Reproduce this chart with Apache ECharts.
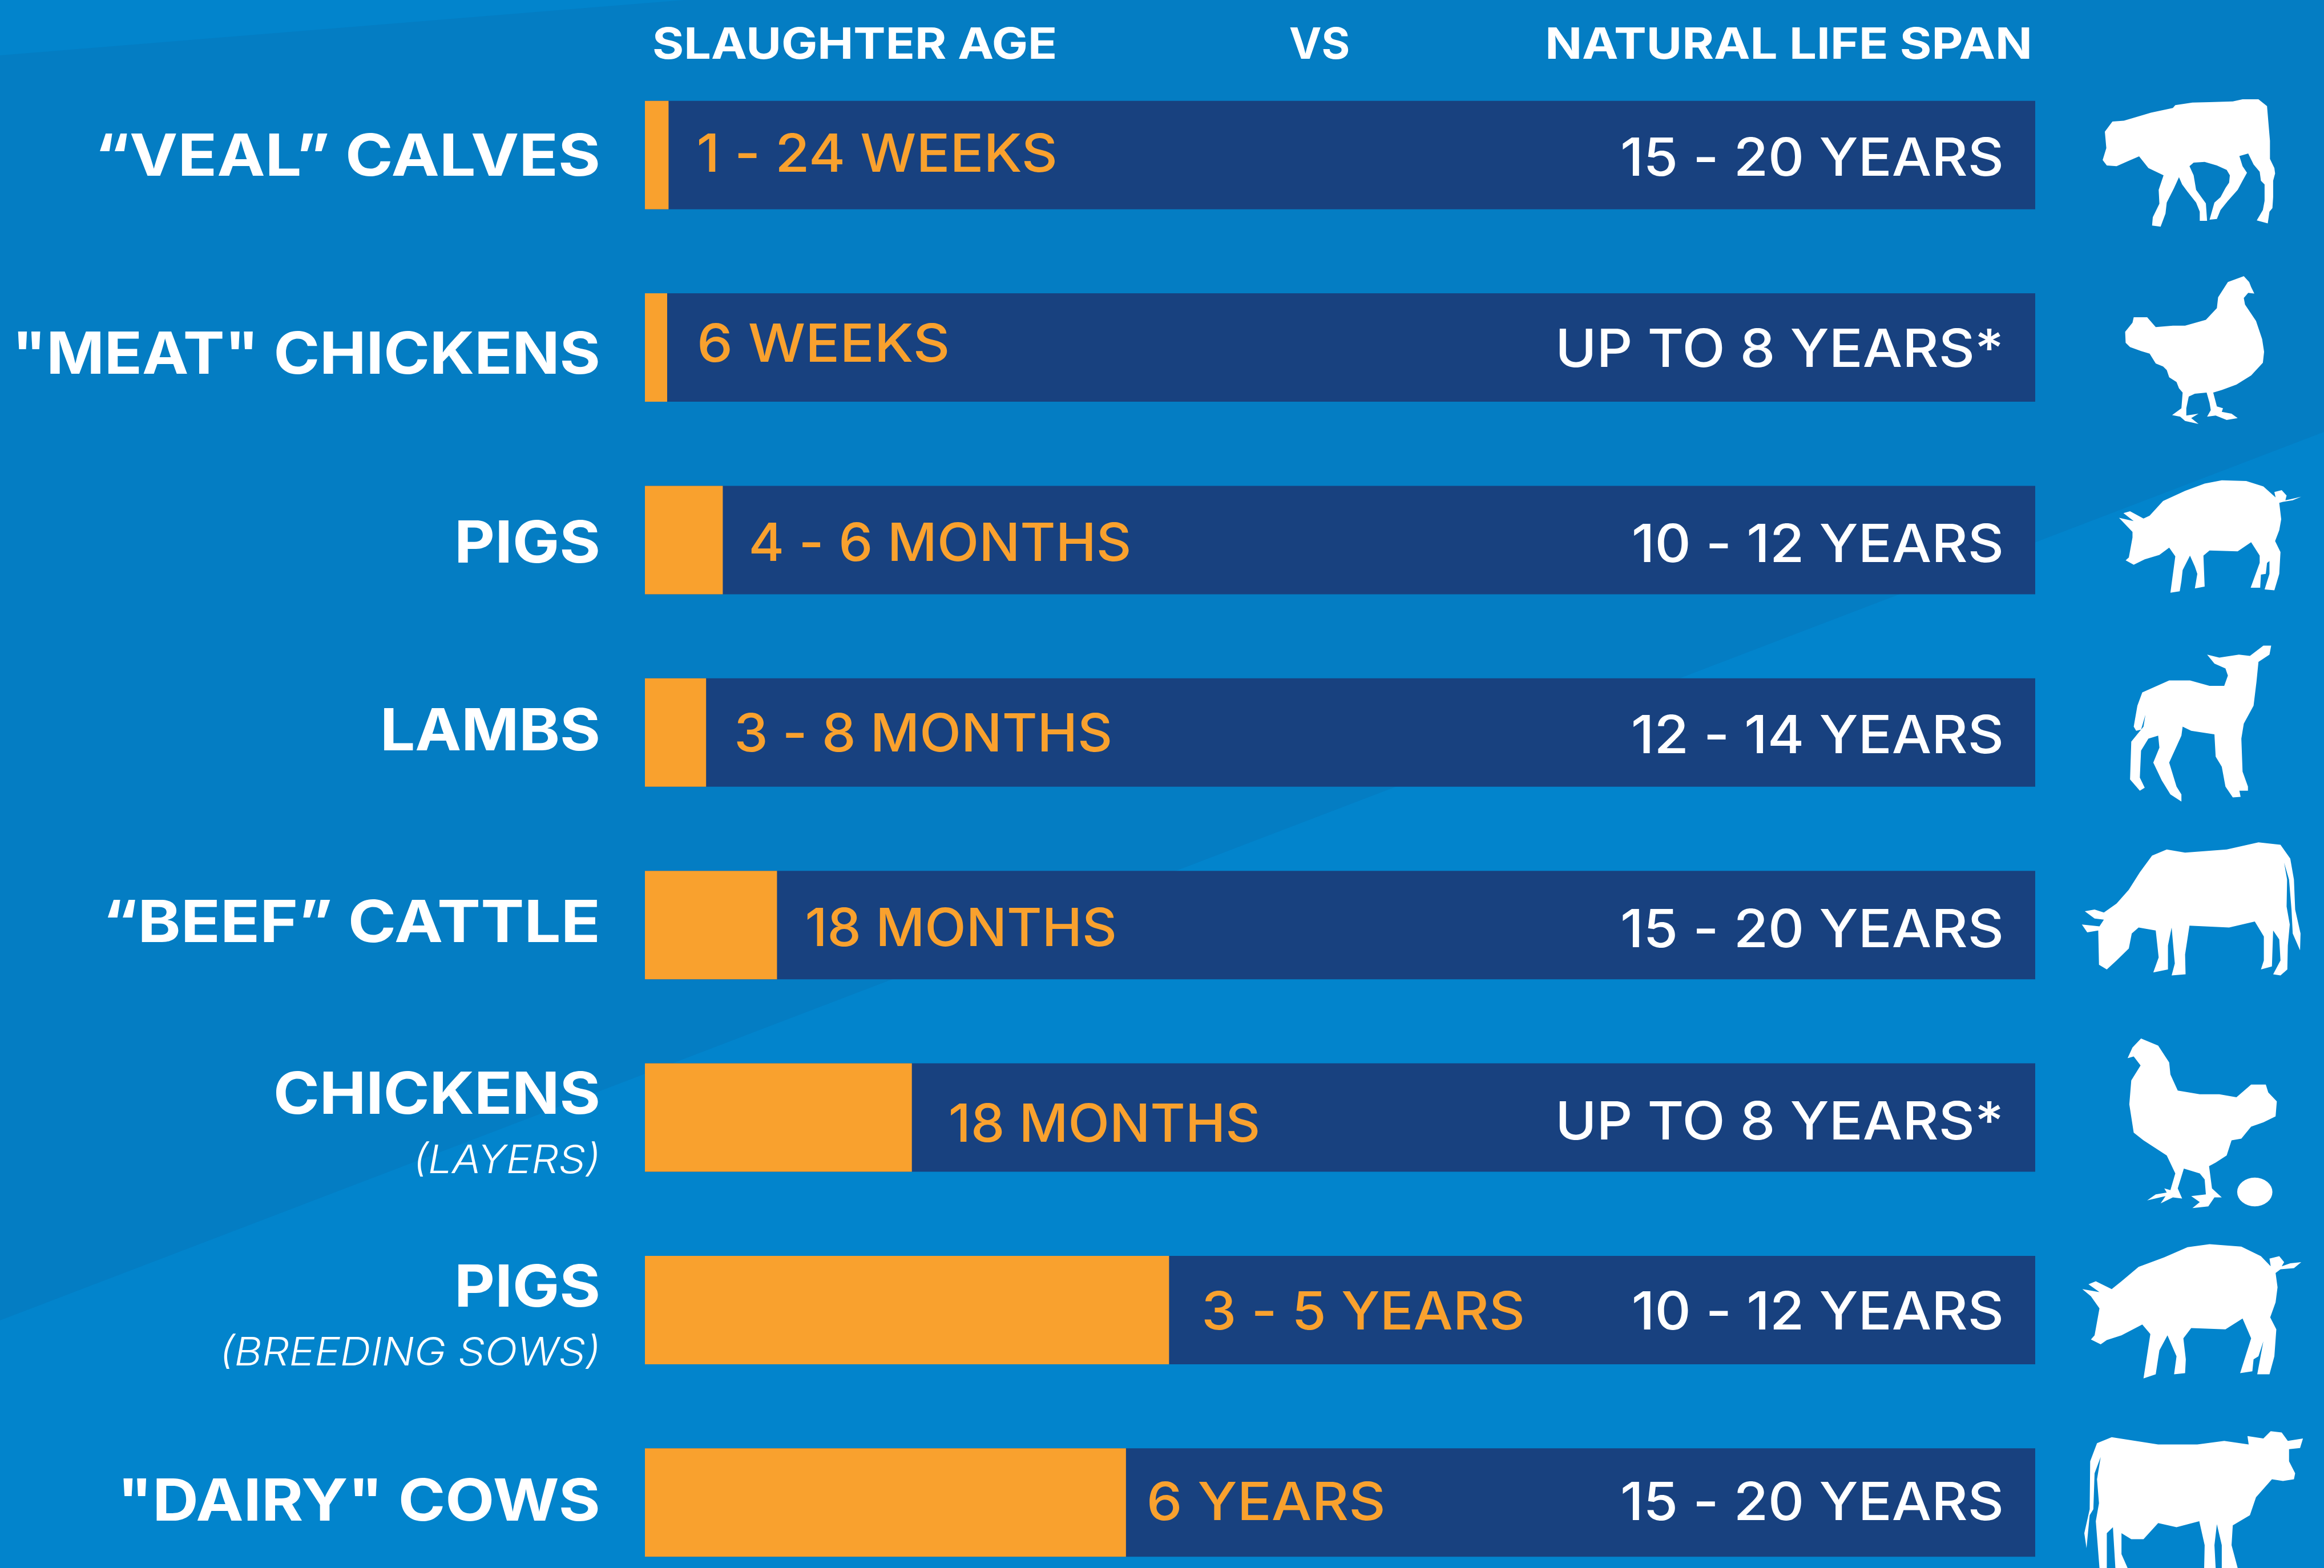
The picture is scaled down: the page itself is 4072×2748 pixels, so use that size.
<!DOCTYPE html>
<html>
<head>
<meta charset="utf-8">
<style>
  html, body { margin: 0; padding: 0; background: #047dc3; }
  #chart { width: 4072px; height: 2748px; }
</style>
<script src="https://cdn.jsdelivr.net/npm/echarts@6/dist/echarts.min.js"></script>
</head>
<body>
<div id="chart"></div>
<script>
var categories = ["“VEAL” CALVES", "\"MEAT\" CHICKENS", "PIGS", "LAMBS", "“BEEF” CATTLE", "CHICKENS", "PIGS", "\"DAIRY\" COWS"];
var subLabels = ["", "", "", "", "", "(LAYERS)", "(BREEDING SOWS)", ""];
// share of natural life span, in percent
var slaughterShare = [1.7, 1.6, 5.6, 4.4, 9.5, 19.2, 37.7, 34.6];
var lifeSpanFull = [100, 100, 100, 100, 100, 100, 100, 100];
var slaughterText = ["1 - 24 WEEKS", "6 WEEKS", "4 - 6 MONTHS", "3 - 8 MONTHS", "18 MONTHS", "18 MONTHS", "3 - 5 YEARS", "6 YEARS"];
var lifeText = ["15 - 20 YEARS", "UP TO 8 YEARS*", "10 - 12 YEARS", "12 - 14 YEARS", "15 - 20 YEARS", "UP TO 8 YEARS*", "10 - 12 YEARS", "15 - 20 YEARS"];

// layout of the texts: gap after the orange bar, small vertical nudges per row
var labelGaps = [49, 52, 45, 49, 49, 64, 57, 36];
var nameNudge = [0, 9, 3, -5, -7, 5, 5, -5];
var slaughterNudge = [-4, -9, 3, 0, 3, 9, 0, -3];
var lifeNudge = [3, 0, 5, 3, 5, 5, 0, -3];
// how much each row's lettering is wider than Inter
var nameStretch = [1.108, 1.069, 1.075, 1.063, 1.118, 1.07, 1.075, 1.095];
var slaughterStretch = [1.063, 1.088, 1.038, 1.03, 1.026, 1.026, 1.06, 1.084];

var FONT = "Inter, Lato, sans-serif";
var ORANGE = "#f9a12e";
var NAVY = "#18417f";
var LIGHT = "#0284cc";
var TEXT_DROP = 6; // Inter sits a little high in its box

// silhouettes, traced in the coordinates of two crops of the picture
var cropA = { x: 3400, y: 100, scaleX: 0.4286, scaleY: 0.6378 };
var cropB = { x: 3400, y: 1100, scaleX: 0.4286, scaleY: 1.051 };
var animals = [
  [cropA, "M703 177L750 175L825 160L860 153L950 140L960 132L1030 125L1100 124L1195 122L1235 116L1300 116L1335 135L1340 175L1347 230L1347 280L1365 305L1368 320L1360 340L1360 385L1357 415L1345 425L1338 457L1293 449L1318 420L1325 395L1325 350L1310 340L1305 315L1280 295L1258 265L1222 272L1235 300L1253 318L1235 340L1215 365L1175 395L1145 420L1130 445L1100 447L1120 400L1145 385L1165 360L1180 345L1183 325L1170 310L1130 298L1080 288L1035 290L1018 300L1035 325L1045 365L1085 402L1090 450L1060 450L1060 425L1045 400L1010 370L988 350L975 330L955 360L925 400L920 430L900 466L865 463L868 440L895 403L892 365L912 325L850 305L812 273L770 285L720 300L680 298L663 283L678 250L672 205Z"],
  [cropA, "M1240 602L1262 618L1270 632L1283 650L1258 648L1240 662L1245 680L1290 725L1315 775L1323 810L1318 840L1270 875L1210 900L1150 915L1115 922L1130 960L1155 965L1150 975L1190 980L1215 992L1170 997L1125 985L1090 988L1105 970L1100 950L1088 922L1040 925L1015 933L1005 965L1005 985L1055 980L1025 992L1055 1008L1000 1000L980 988L947 984L985 965L990 922L975 910L965 893L935 880L925 860L910 850L880 842L855 815L820 808L775 797L757 785L755 755L785 730L790 715L845 715L880 742L950 738L1000 738L1085 722L1130 690L1135 660L1175 618Z"],
  [cropA, "M1150 1163L1250 1165L1320 1180L1370 1210L1365 1195L1395 1190L1415 1205L1410 1218L1430 1215L1475 1208L1440 1218L1400 1222L1385 1225L1393 1270L1385 1300L1368 1330L1390 1360L1385 1420L1365 1465L1325 1463L1345 1420L1345 1385L1335 1390L1330 1420L1310 1422L1307 1458L1268 1458L1305 1390L1305 1370L1270 1333L1215 1358L1100 1356L1075 1370L1080 1455L1040 1460L1050 1420L1040 1400L1020 1370L990 1410L985 1440L978 1468L940 1472L960 1372L935 1348L895 1368L835 1380L790 1395L757 1383L770 1375L785 1320L785 1305L750 1280L730 1266L790 1275L748 1253L775 1248L830 1268L855 1260L910 1220L1000 1192L1080 1172Z"],
  [cropB, "M1090 45L1140 50L1220 45L1265 47L1320 30L1352 30L1345 45L1300 57L1292 90L1280 130L1240 160L1230 185L1235 240L1257 265L1257 272L1222 272L1227 282L1195 283L1165 265L1150 232L1125 215L1120 178L1025 172L990 165L985 180L935 225L965 265L985 278L985 290L940 278L905 255L870 225L895 200L890 180L850 185L820 205L815 250L835 267L815 272L775 253L780 190L830 165L838 145L820 170L800 172L790 165L805 130L825 108L935 88L1020 88L1100 97L1160 97L1175 80L1165 68L1120 60Z"],
  [cropB, "M590 473L630 470L668 475L720 460L770 437L815 408L865 380L925 370L1000 375L1170 370L1300 358L1390 362L1430 385L1445 420L1450 470L1472 510L1470 538L1440 510L1435 470L1425 420L1405 392L1417 420L1415 465L1428 495L1420 530L1418 570L1390 580L1360 578L1390 555L1385 520L1360 505L1355 565L1310 570L1322 555L1322 515L1285 490L1180 500L1018 497L1000 545L1002 578L945 580L958 560L945 500L930 530L930 570L870 575L892 550L880 505L810 500L782 510L770 535L720 555L680 570L648 562L645 505L600 508L578 495L650 498L668 487L630 485Z"],
  [cropB, "M820 685L890 697L935 725L940 745L970 772L1060 778L1140 778L1210 783L1270 762L1330 762L1340 775L1375 790L1370 815L1320 825L1270 832L1230 852L1190 855L1170 880L1125 892L1098 898L1110 935L1150 950L1120 950L1095 965L1030 968L1060 958L1025 948L1085 945L1080 920L1060 910L995 902L970 935L988 952L950 950L900 960L920 948L845 955L880 945L925 942L915 935L940 938L960 910L925 880L830 855L790 842L772 795L780 755L818 730L790 715L765 718L785 700ZM1213 941A72 24 0 1 0 1357 941A72 24 0 1 0 1213 941Z"],
  [cropB, "M1100 1028L1230 1032L1310 1048L1350 1065L1345 1052L1385 1048L1405 1058L1395 1065L1430 1060L1475 1058L1445 1068L1390 1070L1370 1076L1378 1100L1370 1125L1348 1150L1373 1170L1365 1215L1345 1245L1295 1245L1320 1190L1300 1215L1280 1220L1275 1240L1225 1243L1270 1185L1235 1152L1165 1170L1025 1168L993 1185L1003 1220L1000 1243L955 1245L965 1215L928 1180L895 1205L880 1245L830 1252L858 1178L825 1162L740 1180L680 1188L655 1195L615 1187L630 1180L650 1135L615 1115L580 1103L650 1108L605 1095L635 1090L700 1103L740 1090L810 1066L915 1050L1010 1033Z"],
  [cropB, "M640 1360L700 1350L890 1362L1050 1362L1160 1356L1260 1362L1255 1348L1320 1352L1350 1340L1395 1342L1420 1356L1482 1352L1470 1368L1425 1370L1425 1390L1450 1410L1445 1420L1400 1423L1355 1420L1290 1450L1265 1480L1195 1497L1190 1530L1215 1568L1150 1568L1150 1530L1130 1495L1120 1530L1125 1568L1078 1568L1080 1530L1058 1490L965 1500L890 1493L830 1520L780 1520L740 1510L740 1545L765 1568L715 1568L705 1500L680 1510L680 1568L650 1568L635 1490L648 1460L640 1420L655 1383L630 1410L625 1470L610 1480L597 1535L588 1510L610 1470L612 1390Z"]
];

var myChart = echarts.init(document.getElementById("chart"));

// text element, stretched sideways because the original lettering is wider than Inter
function stretchedText(x, y, stretch, text, font, fill, align) {
  return {
    type: "text",
    x: x,
    y: y,
    scaleX: stretch,
    style: { text: text, fill: fill, font: font, textAlign: align, textVerticalAlign: "middle" }
  };
}

// one custom series per column of text, placed through the axes
function textSeries(renderRow) {
  return {
    type: "custom",
    coordinateSystem: "cartesian2d",
    silent: true,
    z: 4,
    encode: { x: 0, y: 1 },
    data: lifeSpanFull.map(function(v, i) { return [v, i]; }),
    renderItem: function(params, api) {
      return renderRow(params.dataIndex, api);
    }
  };
}

var option = {
  backgroundColor: "#047dc3",
  animation: false,
  grid: { left: 1130, width: 2436, top: 103, height: 2699, outerBoundsMode: "none" },
  xAxis: { type: "value", min: 0, max: 100, show: false },
  yAxis: {
    type: "category",
    inverse: true,
    data: categories,
    axisLine: { show: false },
    axisTick: { show: false },
    splitLine: { show: false },
    axisLabel: { show: false }
  },
  series: [
    {
      name: "NATURAL LIFE SPAN",
      type: "bar",
      barWidth: 190,
      barGap: "-100%",
      data: lifeSpanFull,
      itemStyle: { color: NAVY }
    },
    {
      name: "SLAUGHTER AGE",
      type: "bar",
      barWidth: 190,
      data: slaughterShare,
      itemStyle: { color: ORANGE }
    },
    // row names, left of the bars
    textSeries(function(i, api) {
      var p = api.coord([0, i]);
      var x = p[0] - 78;
      var y = p[1] + TEXT_DROP + nameNudge[i];
      if (subLabels[i]) {
        return {
          type: "group",
          children: [
            stretchedText(x, y - 48, nameStretch[i], categories[i], "700 102px " + FONT, "#fff", "right"),
            stretchedText(x, y + 66, 1.1, subLabels[i], "italic 300 68px " + FONT, "#fff", "right")
          ]
        };
      }
      return stretchedText(x, y, nameStretch[i], categories[i], "700 102px " + FONT, "#fff", "right");
    }),
    // slaughter age, just after the orange bar
    textSeries(function(i, api) {
      var p = api.coord([slaughterShare[i], i]);
      return stretchedText(p[0] + labelGaps[i], p[1] + TEXT_DROP + slaughterNudge[i], slaughterStretch[i], slaughterText[i], "500 92px " + FONT, ORANGE, "left");
    }),
    // natural life span, at the end of the navy bar
    textSeries(function(i, api) {
      var p = api.coord([lifeSpanFull[i], i]);
      return stretchedText(p[0] - 55, p[1] + TEXT_DROP + lifeNudge[i], 1.065, lifeText[i], "500 92px " + FONT, "#fff", "right");
    }),
    {
      // white animal silhouettes down the right side
      type: "custom",
      coordinateSystem: "none",
      silent: true,
      z: 5,
      data: animals.map(function(a, i) { return i; }),
      renderItem: function(params) {
        var a = animals[params.dataIndex];
        return {
          type: "path",
          x: a[0].x,
          y: a[0].y,
          scaleX: a[0].scaleX,
          scaleY: a[0].scaleY,
          shape: { pathData: a[1] },
          style: { fill: "#fff" }
        };
      }
    }
  ],
  graphic: {
    elements: [
      // lighter facets of the background
      { type: "polygon", z: -2, silent: true, shape: { points: [[0, 0], [1199, 0], [0, 97]] }, style: { fill: LIGHT } },
      { type: "polygon", z: -2, silent: true, shape: { points: [[0, 2314], [4072, 757], [4072, 2748], [0, 2748]] }, style: { fill: LIGHT } },
      // column heads
      stretchedText(1143, 80, 1.11, "SLAUGHTER AGE", "700 76px " + FONT, "#fff", "left"),
      stretchedText(2312, 80, 1.0, "VS", "700 76px " + FONT, "#fff", "center"),
      stretchedText(3561, 80, 1.12, "NATURAL LIFE SPAN", "700 76px " + FONT, "#fff", "right")
    ]
  }
};
myChart.setOption(option);
window.addEventListener("resize", function() {
  myChart.resize();
});
</script>
</body>
</html>
